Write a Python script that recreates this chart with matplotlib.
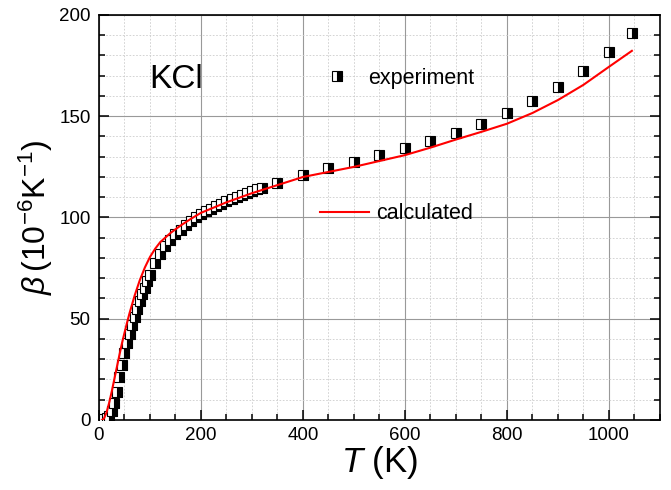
import matplotlib
matplotlib.use("Agg")
from matplotlib import pyplot as plt
from matplotlib.ticker import MultipleLocator

plt.rcParams['font.family'] = ['Liberation Sans', 'DejaVu Sans']
plt.rcParams['mathtext.fontset'] = 'custom'
plt.rcParams['mathtext.rm'] = 'Liberation Sans'
plt.rcParams['mathtext.it'] = 'Liberation Sans:italic'
plt.rcParams['axes.unicode_minus'] = False

# experiment (KCl thermal expansion)
exp_T = [10, 15, 20, 25, 30, 35, 40, 45, 50, 55, 60, 65, 70, 75, 80, 85, 90, 95, 100,
         110, 120, 130, 140, 150, 160, 170, 180, 190, 200, 210, 220, 230, 240, 250,
         260, 270, 280, 290, 300, 310, 320,
         350, 400, 450, 500, 550, 600, 650, 700, 750, 800, 850, 900, 950, 1000, 1045]
exp_beta = [0.3, 0.8, 1.8, 4.2, 8.5, 14, 21, 27, 33, 38, 42.5, 47, 51, 55, 58.8, 62.2, 65.4, 68.4, 71.5,
            77.5, 82, 85.8, 88.8, 91.6, 94, 96.3, 98.3, 100, 101.6, 103.1, 104.4, 105.7, 106.9, 108.1,
            109.2, 110.3, 111.3, 112.3, 113.2, 114, 114.8,
            117.2, 120.8, 124.2, 127.4, 130.7, 134.2, 138, 141.9, 146.4, 151.4, 157.6, 164.5, 172.3, 181.5, 191]

# calculated curve
calc_T = [6, 10, 15, 20, 25, 30, 35, 40, 45, 50, 55, 60, 70, 80, 90, 100, 110, 120, 140, 160, 180,
          200, 250, 300, 350, 400, 450, 500, 550, 600, 650, 700, 750, 800, 850, 900, 950, 1000, 1045]
calc_beta = [0, 0.8, 3.8, 8.5, 14, 20, 26, 32, 37.8, 43, 48, 52.8, 61.5, 69, 75.3, 80.5, 84.5, 87.8, 92.3, 96, 99.3,
             102.3, 107.5, 112, 116, 120, 122.5, 125, 127.9, 130.8, 134.5, 138.5, 142.3, 146.3, 151.6, 158, 165.5, 174.4, 182.3]

fig = plt.figure(figsize=(6.71, 4.90), dpi=100)
ax = fig.add_axes([0.1475, 0.1429, 0.836, 0.8265])

exp_line, = ax.plot(exp_T, exp_beta, linestyle='none', marker='s', markersize=6.5,
                    fillstyle='right', markerfacecolor='black', markerfacecoloralt='white',
                    markeredgecolor='black', markeredgewidth=0.8, zorder=3)
calc_line, = ax.plot(calc_T, calc_beta, color='red', lw=1.5, zorder=4)

ax.set_xlim(0, 1100)
ax.set_ylim(0, 200)
ax.xaxis.set_major_locator(MultipleLocator(200))
ax.xaxis.set_minor_locator(MultipleLocator(50))
ax.yaxis.set_major_locator(MultipleLocator(50))
ax.yaxis.set_minor_locator(MultipleLocator(10))

ax.grid(which='major', color='#999999', lw=0.8, linestyle='-')
ax.grid(which='minor', color='#cccccc', lw=0.6, linestyle=(0, (2, 2)))
ax.set_axisbelow(True)

for s in ax.spines.values():
    s.set_linewidth(1.2)
ax.tick_params(which='both', direction='in', left=True, right=True, bottom=True, top=False,
               labelsize=13.5, width=1.1)
ax.tick_params(which='major', length=7)
ax.tick_params(which='minor', length=4)
ax.tick_params(axis='y', pad=6)
ax.tick_params(axis='x', pad=5)

ax.set_xlabel(r'$\mathit{T}$ (K)', fontsize=25, labelpad=0)
ax.set_ylabel(r'$\beta\,(10^{-6}\mathrm{K}^{-1})$', fontsize=23, labelpad=3)

ax.text(0.089, 0.82, 'KCl', transform=ax.transAxes, fontsize=24, va='baseline', ha='left')

leg1 = ax.legend([exp_line], ['experiment'], loc='center left', bbox_to_anchor=(0.38, 0.844),
                 frameon=False, fontsize=15.5, handlelength=2.27, handletextpad=0.32,
                 borderpad=0, borderaxespad=0)
ax.add_artist(leg1)
ax.legend([calc_line], ['calculated'], loc='center left', bbox_to_anchor=(0.394, 0.509),
          frameon=False, fontsize=15.5, handlelength=2.27, handletextpad=0.32,
          borderpad=0, borderaxespad=0)

fig.savefig('out.png', dpi=100)
